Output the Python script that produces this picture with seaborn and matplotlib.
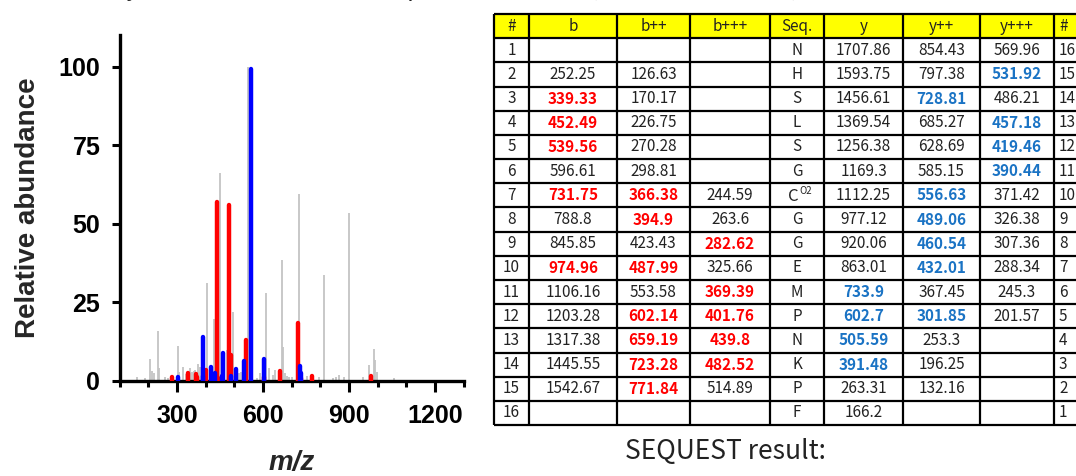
import numpy as np
import pandas as pd
import matplotlib
matplotlib.use("Agg")
import matplotlib.pyplot as plt
from matplotlib.patches import Rectangle
import seaborn as sns

# ---------------- spectrum data (m/z, relative abundance) ----------------
gray_mz = [159.4, 188.4, 204.8, 211.8, 218.7, 232.7, 238.3, 257.1, 269.7, 303.5,
           308.0, 319.9, 330.3, 345.3, 351.3, 358.2, 363.8, 374.3, 381.3, 387.2,
           404.6, 430.1, 450.0, 464.0, 474.4, 494.3, 517.3, 523.2, 548.7, 580.0,
           589.5, 609.4, 621.9, 633.8, 640.8, 665.2, 670.8, 677.8, 684.7, 691.7,
           701.1, 724.5, 753.4, 794.3, 811.7, 843.1, 853.5, 864.0, 882.5, 899.9,
           949.8, 968.7, 986.1, 990.6, 996.6, 1058.0]
gray_h = [1.1, 0.9, 7.0, 3.1, 2.3, 15.8, 4.0, 1.1, 0.9, 11.0,
          2.8, 4.5, 2.0, 3.9, 2.8, 3.0, 3.4, 5.3, 4.5, 10.8,
          31.0, 19.6, 66.0, 2.0, 9.7, 22.0, 2.3, 2.8, 100.0, 0.8,
          2.3, 28.0, 3.9, 1.8, 3.3, 38.4, 10.6, 2.4, 1.5, 1.3,
          1.1, 59.4, 1.5, 1.3, 33.6, 0.8, 1.1, 1.8, 1.1, 53.5,
          1.1, 5.0, 10.1, 6.5, 2.9, 0.8]

b_mz = [282.62, 339.33, 366.38, 369.39, 394.9, 401.76, 439.8, 452.49, 482.52,
        487.99, 539.56, 602.14, 659.19, 723.28, 731.75, 771.84, 974.96]
b_h = [1.1, 2.4, 2.0, 1.2, 1.2, 3.4, 57.0, 1.0, 55.8,
       8.2, 13.0, 1.2, 3.2, 18.3, 1.0, 1.5, 1.5]

y_mz = [301.85, 390.44, 391.48, 419.46, 432.01, 457.18, 460.54, 489.06, 505.59,
        531.92, 556.63, 602.7, 728.81, 733.9]
y_h = [1.3, 1.5, 14.0, 4.5, 2.3, 1.5, 8.9, 1.5, 3.6,
       6.3, 99.2, 6.8, 4.7, 2.3]

x_ticks = [300, 600, 900, 1200]
y_ticks = [0, 25, 50, 75, 100]

# ---------------- table data ----------------
header = ["#", "b", "b++", "b+++", "Seq.", "y", "y++", "y+++", "#"]
num_l = [str(i) for i in range(1, 17)]
b_col = ["", "252.25", "339.33", "452.49", "539.56", "596.61", "731.75", "788.8",
         "845.85", "974.96", "1106.16", "1203.28", "1317.38", "1445.55", "1542.67", ""]
b2_col = ["", "126.63", "170.17", "226.75", "270.28", "298.81", "366.38", "394.9",
          "423.43", "487.99", "553.58", "602.14", "659.19", "723.28", "771.84", ""]
b3_col = ["", "", "", "", "", "", "244.59", "263.6", "282.62", "325.66", "369.39",
          "401.76", "439.8", "482.52", "514.89", ""]
seq_col = ["N", "H", "S", "L", "S", "G", "C", "G", "G", "E", "M", "P", "N", "K", "P", "F"]
y_col = ["1707.86", "1593.75", "1456.61", "1369.54", "1256.38", "1169.3", "1112.25",
         "977.12", "920.06", "863.01", "733.9", "602.7", "505.59", "391.48", "263.31", "166.2"]
y2_col = ["854.43", "797.38", "728.81", "685.27", "628.69", "585.15", "556.63", "489.06",
          "460.54", "432.01", "367.45", "301.85", "253.3", "196.25", "132.16", ""]
y3_col = ["569.96", "531.92", "486.21", "457.18", "419.46", "390.44", "371.42", "326.38",
          "307.36", "288.34", "245.3", "201.57", "", "", "", ""]
num_r = [str(i) for i in range(16, 0, -1)]

red_b = [3, 4, 5, 7, 10]
red_b2 = [7, 8, 10, 12, 13, 14, 15]
red_b3 = [9, 11, 12, 13, 14]
blue_y = [11, 12, 13, 14]
blue_y2 = [3, 7, 8, 9, 10, 12]
blue_y3 = [2, 4, 5, 6]

RED = "#ff0000"
BLUE = "#0000ff"
TBLUE = "#1a73c4"
GRAY = "#c4c4c4"

sns.set_theme(style="ticks")
plt.rcParams["font.family"] = ["Liberation Sans", "DejaVu Sans"]

W, H = 1076, 476
fig = plt.figure(figsize=(W / 100, H / 100), dpi=100)

# ---------------- spectrum ----------------
ax = fig.add_axes([119.7 / W, 95.3 / H, 344.0 / W, 345.4 / H])
df = pd.concat([
    pd.DataFrame({"mz": gray_mz, "h": gray_h, "kind": "gray"}),
    pd.DataFrame({"mz": b_mz, "h": b_h, "kind": "b"}),
    pd.DataFrame({"mz": y_mz, "h": y_h, "kind": "y"}),
], ignore_index=True)

g = df[df.kind == "gray"]
ax.vlines(g.mz, 0, g.h, color=GRAY, lw=1.3, zorder=2)
r = df[df.kind == "b"]
ax.vlines(r.mz, 0, r.h, color=RED, lw=3.2, capstyle="round", zorder=3)
bl = df[df.kind == "y"]
ax.vlines(bl.mz, 0, bl.h, color=BLUE, lw=3.2, capstyle="round", zorder=4)

ax.set_xlim(100, 1300)
ax.set_ylim(0, 110)
ax.set_xticks(x_ticks)
ax.set_xticks(np.arange(100, 1301, 100), minor=True)
ax.set_yticks(y_ticks)
sns.despine(ax=ax)
for s in ["left", "bottom"]:
    ax.spines[s].set_linewidth(2.4)
    ax.spines[s].set_color("black")
ax.tick_params(axis="x", which="major", length=8, width=2.2, pad=9, labelsize=18, colors="black")
ax.tick_params(axis="x", which="minor", length=4, width=2.2, colors="black")
ax.tick_params(axis="y", which="major", length=6, width=2.2, pad=8, labelsize=18, colors="black")
for lab in ax.get_xticklabels() + ax.get_yticklabels():
    lab.set_fontweight("bold")
ax.set_facecolor("white")

fig.text(28 / W, 1 - 208 / H, "Relative abundance", rotation=90, ha="center", va="center",
         fontsize=20, fontweight="bold")
fig.text(292 / W, 1 - 463 / H, "m/z", ha="center", va="center",
         fontsize=20, fontweight="bold", style="italic")

# ---------------- table ----------------
axt = fig.add_axes([0, 0, 1, 1])
axt.set_xlim(0, W)
axt.set_ylim(H, 0)
axt.axis("off")
axt.patch.set_alpha(0)

col_edges = [494, 529, 617, 690, 770, 824, 903, 980, 1054, 1092]
top, row_h = 14.0, 24.18
n_rows = 17
row_edges = [top + i * row_h for i in range(n_rows + 1)]

axt.add_patch(Rectangle((col_edges[0], top), col_edges[-1] - col_edges[0], row_h,
                        facecolor="#ffff00", edgecolor="none", zorder=1))
axt.hlines(row_edges, col_edges[0], col_edges[-1], color="black", lw=1.6, zorder=3)
axt.vlines(col_edges, row_edges[0], row_edges[-1], color="black", lw=1.6, zorder=3)

tfont = ["Noto Sans CJK KR", "DejaVu Sans"]
FS = 11

def cx(j):
    return (col_edges[j] + col_edges[j + 1]) / 2

def cy(i):
    return (row_edges[i] + row_edges[i + 1]) / 2

for j, h in enumerate(header):
    x = cx(j) if j < 8 else col_edges[8] + 5
    axt.text(x, cy(0), h, ha="center" if j < 8 else "left", va="center",
             fontsize=FS, family=tfont, color="#222222", zorder=4)

columns = [num_l, b_col, b2_col, b3_col, seq_col, y_col, y2_col, y3_col, num_r]
hl = {1: (red_b, RED), 2: (red_b2, RED), 3: (red_b3, RED),
      5: (blue_y, TBLUE), 6: (blue_y2, TBLUE), 7: (blue_y3, TBLUE)}

for j, col in enumerate(columns):
    for i, val in enumerate(col):
        row = i + 1
        if not val:
            continue
        color, weight = "#222222", "normal"
        if j in hl and row in hl[j][0]:
            color, weight = hl[j][1], "bold"
        if j == 8:
            axt.text(col_edges[8] + 5, cy(row), val, ha="left", va="center",
                     fontsize=FS, family=tfont, color=color, fontweight=weight, zorder=4)
        elif j == 4 and row == 7:
            axt.text(cx(j) - 4, cy(row) + 1, val, ha="center", va="center",
                     fontsize=FS + 1, family=tfont, color=color, zorder=4)
            axt.text(cx(j) + 2, cy(row) - 4, "O2", ha="left", va="center",
                     fontsize=FS - 4, family=tfont, color=color, zorder=4)
        else:
            axt.text(cx(j), cy(row), val, ha="center", va="center",
                     fontsize=FS, family=tfont, color=color, fontweight=weight, zorder=4)

# ---------------- captions ----------------
axt.text(725, 452, "SEQUEST result:", ha="center", va="center",
         fontsize=19, family=tfont, color="#222222")
# title line above the figure, only its lowest part shows (as in the reference)
axt.text(52, -5, "C", ha="left", va="baseline", fontsize=17, family=tfont, color="#222222")
axt.text(70, -2, "O2", ha="left", va="baseline", fontsize=12, family=tfont, color="#222222")
axt.text(112, -4, "by ESI-MS-MS and the ion spectrum", ha="left", va="baseline",
         fontsize=17, family=tfont, color="#222222")
axt.text(590, -4, "(NHSLSGCGGEMPNK)", ha="left", va="baseline",
         fontsize=15, family=tfont, color="#222222")

fig.savefig("out.png", dpi=100, facecolor="white")
